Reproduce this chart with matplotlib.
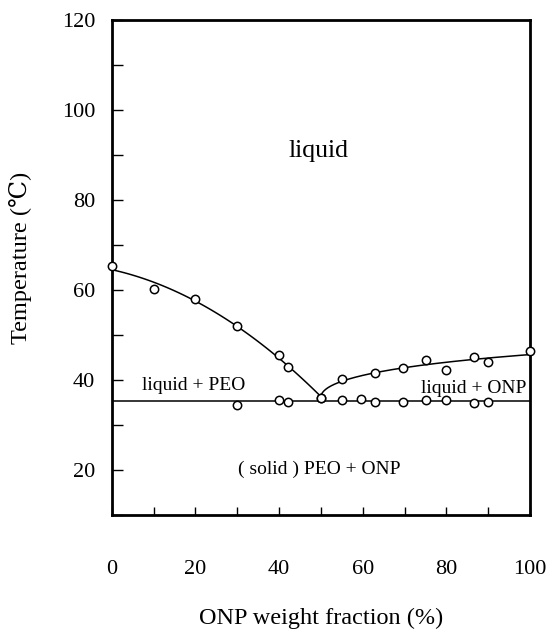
import numpy as np
import matplotlib.pyplot as plt
from matplotlib.ticker import MultipleLocator

# ONP weight fraction (%) vs. temperature (C)
liq_peo_x = [0, 10, 20, 30, 40, 42, 50]
liq_peo_y = [65.3, 60.2, 58.1, 52.1, 45.6, 42.9, 36.0]

liq_onp_x = [50, 55, 63, 69.5, 75, 80, 86.5, 90, 100]
liq_onp_y = [36.0, 40.2, 41.6, 42.8, 44.5, 42.2, 45.1, 44.0, 46.5]

sol_x = [30, 40, 42, 55, 59.5, 63, 69.5, 75, 80, 86.5, 90]
sol_y = [34.5, 35.5, 35.2, 35.5, 35.7, 35.2, 35.2, 35.6, 35.6, 35.0, 35.2]

plt.rcParams['font.family'] = ['Liberation Serif', 'DejaVu Serif']

fig = plt.figure(figsize=(5.51, 6.32), dpi=100)
ax = fig.add_axes([0.203, 0.185, 0.759, 0.783])

# liquidus curves (fitted) and the eutectic line
xa = np.linspace(0, 50, 100)
ax.plot(xa, np.polyval(np.polyfit(liq_peo_x, liq_peo_y, 2), xa), color='black', lw=1.1)
xb = np.linspace(50, 100, 200)
cb = np.polyfit(np.sqrt(np.array(liq_onp_x) - 50), liq_onp_y, 2)
ax.plot(xb, np.polyval(cb, np.sqrt(xb - 50)), color='black', lw=1.1)
ax.axhline(np.mean(sol_y), color='black', lw=1.1)

mk = dict(ls='none', marker='o', ms=6, mfc='white', mec='black', mew=1.1, clip_on=False, zorder=3)
ax.plot(liq_peo_x, liq_peo_y, **mk)
ax.plot(liq_onp_x, liq_onp_y, **mk)
ax.plot(sol_x, sol_y, **mk)

ax.text(49.5, 91, 'liquid', ha='center', va='center', fontsize=18.5)
ax.text(19.5, 38.8, 'liquid + PEO', ha='center', va='center', fontsize=14)
ax.text(86.5, 38.2, 'liquid + ONP', ha='center', va='center', fontsize=14)
ax.text(49.5, 20.2, '( solid ) PEO + ONP', ha='center', va='center', fontsize=14)

ax.set_xlim(0, 100)
ax.set_ylim(10, 120)
ax.set_xticks(np.arange(0, 101, 20))
ax.xaxis.set_minor_locator(MultipleLocator(10))
ax.set_yticks(np.arange(20, 121, 20))
ax.yaxis.set_minor_locator(MultipleLocator(10))
ax.tick_params(axis='x', which='both', direction='in', pad=32, labelsize=16, length=6, width=1)
ax.tick_params(axis='y', which='both', direction='in', pad=12, labelsize=16, length=8, width=1)
for s in ax.spines.values():
    s.set_linewidth(2)

ax.set_xlabel('ONP weight fraction (%)', fontsize=17.5, labelpad=21)
ax.set_ylabel('Temperature (\u2103)', fontsize=17.5)
ax.yaxis.set_label_coords(-0.19, 0.52)

fig.savefig('out.png', dpi=100)
